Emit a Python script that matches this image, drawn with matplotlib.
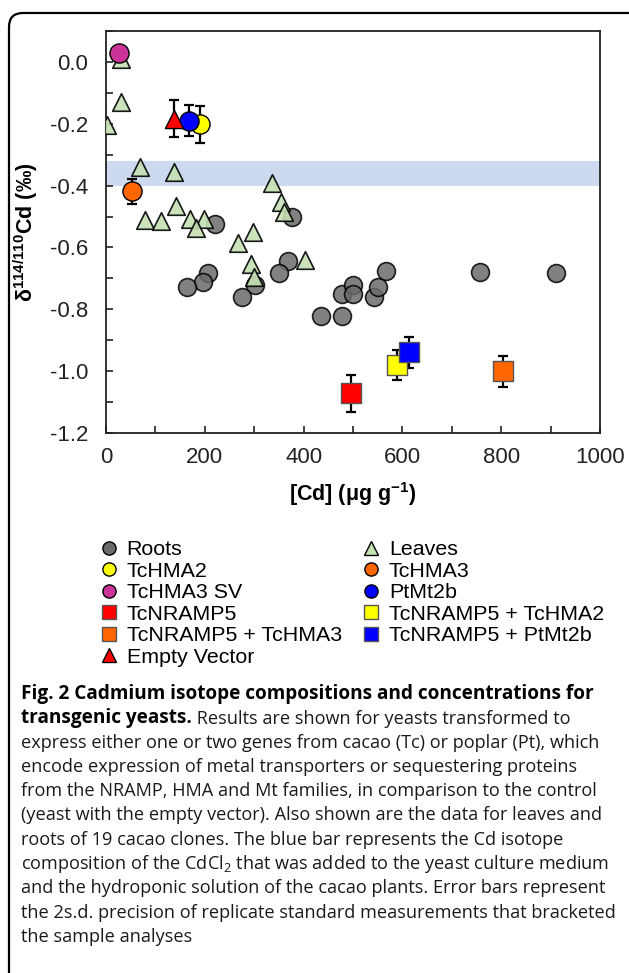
import matplotlib
matplotlib.use('Agg')
import matplotlib.pyplot as plt
from matplotlib.lines import Line2D
from matplotlib.patches import FancyBboxPatch
from matplotlib.ticker import FormatStrFormatter, MultipleLocator
import numpy as np

plt.rcParams['font.family'] = ['Liberation Sans', 'DejaVu Sans']
plt.rcParams['mathtext.fontset'] = 'custom'
plt.rcParams['mathtext.rm'] = 'Liberation Sans'
plt.rcParams['mathtext.bf'] = 'Liberation Sans:bold'
plt.rcParams['mathtext.it'] = 'Liberation Sans:italic'
plt.rcParams['axes.unicode_minus'] = False

# ---------------- data ----------------
roots_x = [221, 376, 301, 368, 350, 207, 197, 163, 276, 435, 477, 477, 501, 499, 543, 551, 566, 757, 911]
roots_y = [-0.525, -0.501, -0.721, -0.645, -0.683, -0.683, -0.712, -0.728, -0.761, -0.822,
           -0.823, -0.752, -0.723, -0.750, -0.761, -0.728, -0.676, -0.680, -0.682]

leaves_x = [30, 30, 3, 69, 138, 337, 142, 79, 111, 170, 198, 182, 354, 361, 267, 298, 293, 300, 403]
leaves_y = [0.01, -0.129, -0.204, -0.339, -0.355, -0.393, -0.466, -0.510, -0.514, -0.507,
            -0.507, -0.536, -0.453, -0.485, -0.584, -0.551, -0.653, -0.694, -0.642]

yeast_labels = ["TcHMA2", "TcHMA3", "TcHMA3 SV", "PtMt2b", "TcNRAMP5",
                "TcNRAMP5 + TcHMA2", "TcNRAMP5 + TcHMA3", "TcNRAMP5 + PtMt2b", "Empty Vector"]
yeast_x = [190, 53, 26, 169, 496, 590, 804, 613, 138]
yeast_y = [-0.202, -0.419, 0.030, -0.190, -1.071, -0.980, -1.000, -0.939, -0.183]
yeast_err = [0.06, 0.04, 0.0, 0.05, 0.06, 0.05, 0.05, 0.05, 0.06]

band_low, band_high = -0.40, -0.32

x_ticks = [0, 200, 400, 600, 800, 1000]
y_ticks = [-1.2, -1.0, -0.8, -0.6, -0.4, -0.2, 0.0]

caption_title = "Fig. 2 Cadmium isotope compositions and concentrations for"
caption_bold2 = "transgenic yeasts."
caption_rest2 = " Results are shown for yeasts transformed to"
caption_lines = [
    "express either one or two genes from cacao (Tc) or poplar (Pt), which",
    "encode expression of metal transporters or sequestering proteins",
    "from the NRAMP, HMA and Mt families, in comparison to the control",
    "(yeast with the empty vector). Also shown are the data for leaves and",
    "roots of 19 cacao clones. The blue bar represents the Cd isotope",
    "composition of the CdCl$_2$ that was added to the yeast culture medium",
    "and the hydroponic solution of the cacao plants. Error bars represent",
    "the 2s.d. precision of replicate standard measurements that bracketed",
    "the sample analyses",
]

# ---------------- styles ----------------
yeast_colors = ["#ffff00", "#ff6600", "#cc3399", "#0000ff", "#ff0000",
                "#ffff00", "#ff6600", "#0000ff", "#ff0000"]
yeast_markers = ["o", "o", "o", "o", "s", "s", "s", "s", "^"]
yeast_sizes = [190, 190, 190, 190, 220, 220, 220, 220, 170]

W, H = 629, 973
fig = plt.figure(figsize=(W / 100, H / 100), dpi=100)

# frame around the figure
frame = FancyBboxPatch((0.09, -0.3), 6.45, 9.60 + 0.3, boxstyle="round,pad=0,rounding_size=0.14",
                       transform=fig.dpi_scale_trans, fill=False, lw=1.6, ec="black", clip_on=False)
fig.patches.append(frame)

ax = fig.add_axes([106 / W, 1 - 433 / H, (600 - 106) / W, (433 - 31) / H])
ax.axhspan(band_low, band_high, color="#cdd9ef", lw=0, zorder=0)

ax.scatter(roots_x, roots_y, s=165, marker="o", c="#6b6b6b", alpha=0.85,
           edgecolors="black", linewidths=1.2, zorder=2)
ax.scatter(leaves_x, leaves_y, s=160, marker="^", c="#c5e0b4", alpha=0.9,
           edgecolors="black", linewidths=1.2, zorder=3)

for lab, x, y, e, c, m, s in zip(yeast_labels, yeast_x, yeast_y, yeast_err,
                                 yeast_colors, yeast_markers, yeast_sizes):
    ax.errorbar(x, y, yerr=e, fmt="none", ecolor="black", elinewidth=1.6,
                capsize=3.5, capthick=1.6, zorder=4)
    ec = "#555555" if m == "s" else "black"
    ax.scatter([x], [y], s=s, marker=m, c=c, edgecolors=ec, linewidths=1.0, zorder=5)

ax.set_xlim(0, 1000)
ax.set_ylim(-1.2, 0.1)
ax.set_xticks(x_ticks)
ax.set_yticks(y_ticks)
ax.xaxis.set_minor_locator(MultipleLocator(100))
ax.yaxis.set_minor_locator(MultipleLocator(0.1))
ax.yaxis.set_major_formatter(FormatStrFormatter('%.1f'))
ax.tick_params(which="both", direction="in", length=5, width=1.2, labelsize=16, color="#222222",
               labelcolor="#222222")
ax.tick_params(axis="x", pad=10)
ax.tick_params(axis="y", pad=13)
for sp in ax.spines.values():
    sp.set_linewidth(1.3)
    sp.set_color("#222222")

ax.set_xlabel(r"[Cd] (μg g$^{\mathbf{-1}}$)", fontsize=15.5, fontweight="bold", labelpad=9)
ax.set_ylabel(r"δ$^{\mathbf{114/110}}$Cd (‰)", fontsize=15.5, fontweight="bold", labelpad=7)

# legend
handles = [Line2D([], [], ls="none", marker="o", ms=9.5, mfc="#6b6b6b", mec="black", mew=1.0),
           Line2D([], [], ls="none", marker="^", ms=9.5, mfc="#c5e0b4", mec="black", mew=1.0)]
labels = ["Roots", "Leaves"]
for lab, c, m in zip(yeast_labels, yeast_colors, yeast_markers):
    handles.append(Line2D([], [], ls="none", marker=m, ms=9.5, mfc=c,
                          mec="#555555" if m == "s" else "black", mew=1.0))
    labels.append(lab)
col1 = [0, 2, 4, 6, 8, 10]
col2 = [1, 3, 5, 7, 9]
idx = col1 + col2
fig.legend([handles[i] for i in idx], [labels[i] for i in idx], ncol=2,
           loc="upper left", bbox_to_anchor=(100 / W, 1 - 540 / H), frameon=False,
           fontsize=15.4, handlelength=0.8, handletextpad=0.45, labelspacing=0.12,
           columnspacing=0.95, borderpad=0, borderaxespad=0)

# caption
cap_reg = dict(family=["Open Sans", "DejaVu Sans"], fontsize=13.1, color="#1a1a1a")
cap_bold = dict(family=["Open Sans", "DejaVu Sans"], fontsize=13.7, fontweight="bold", color="#000000")
plt.rcParams['mathtext.rm'] = 'Open Sans'
x0 = 21 / W
y_first = 694
dy = 24.3
fig.text(x0, 1 - y_first / H, caption_title, va="center", **cap_bold)
t2 = fig.text(x0, 1 - (y_first + dy) / H, caption_bold2, va="center", **cap_bold)
ax.annotate(caption_rest2, xy=(1, 0), xycoords=t2, va="bottom", ha="left",
            annotation_clip=False, **cap_reg)
for i, line in enumerate(caption_lines):
    fig.text(x0, 1 - (y_first + (i + 2) * dy) / H, line, va="center", **cap_reg)

fig.savefig("out.png", dpi=100)
